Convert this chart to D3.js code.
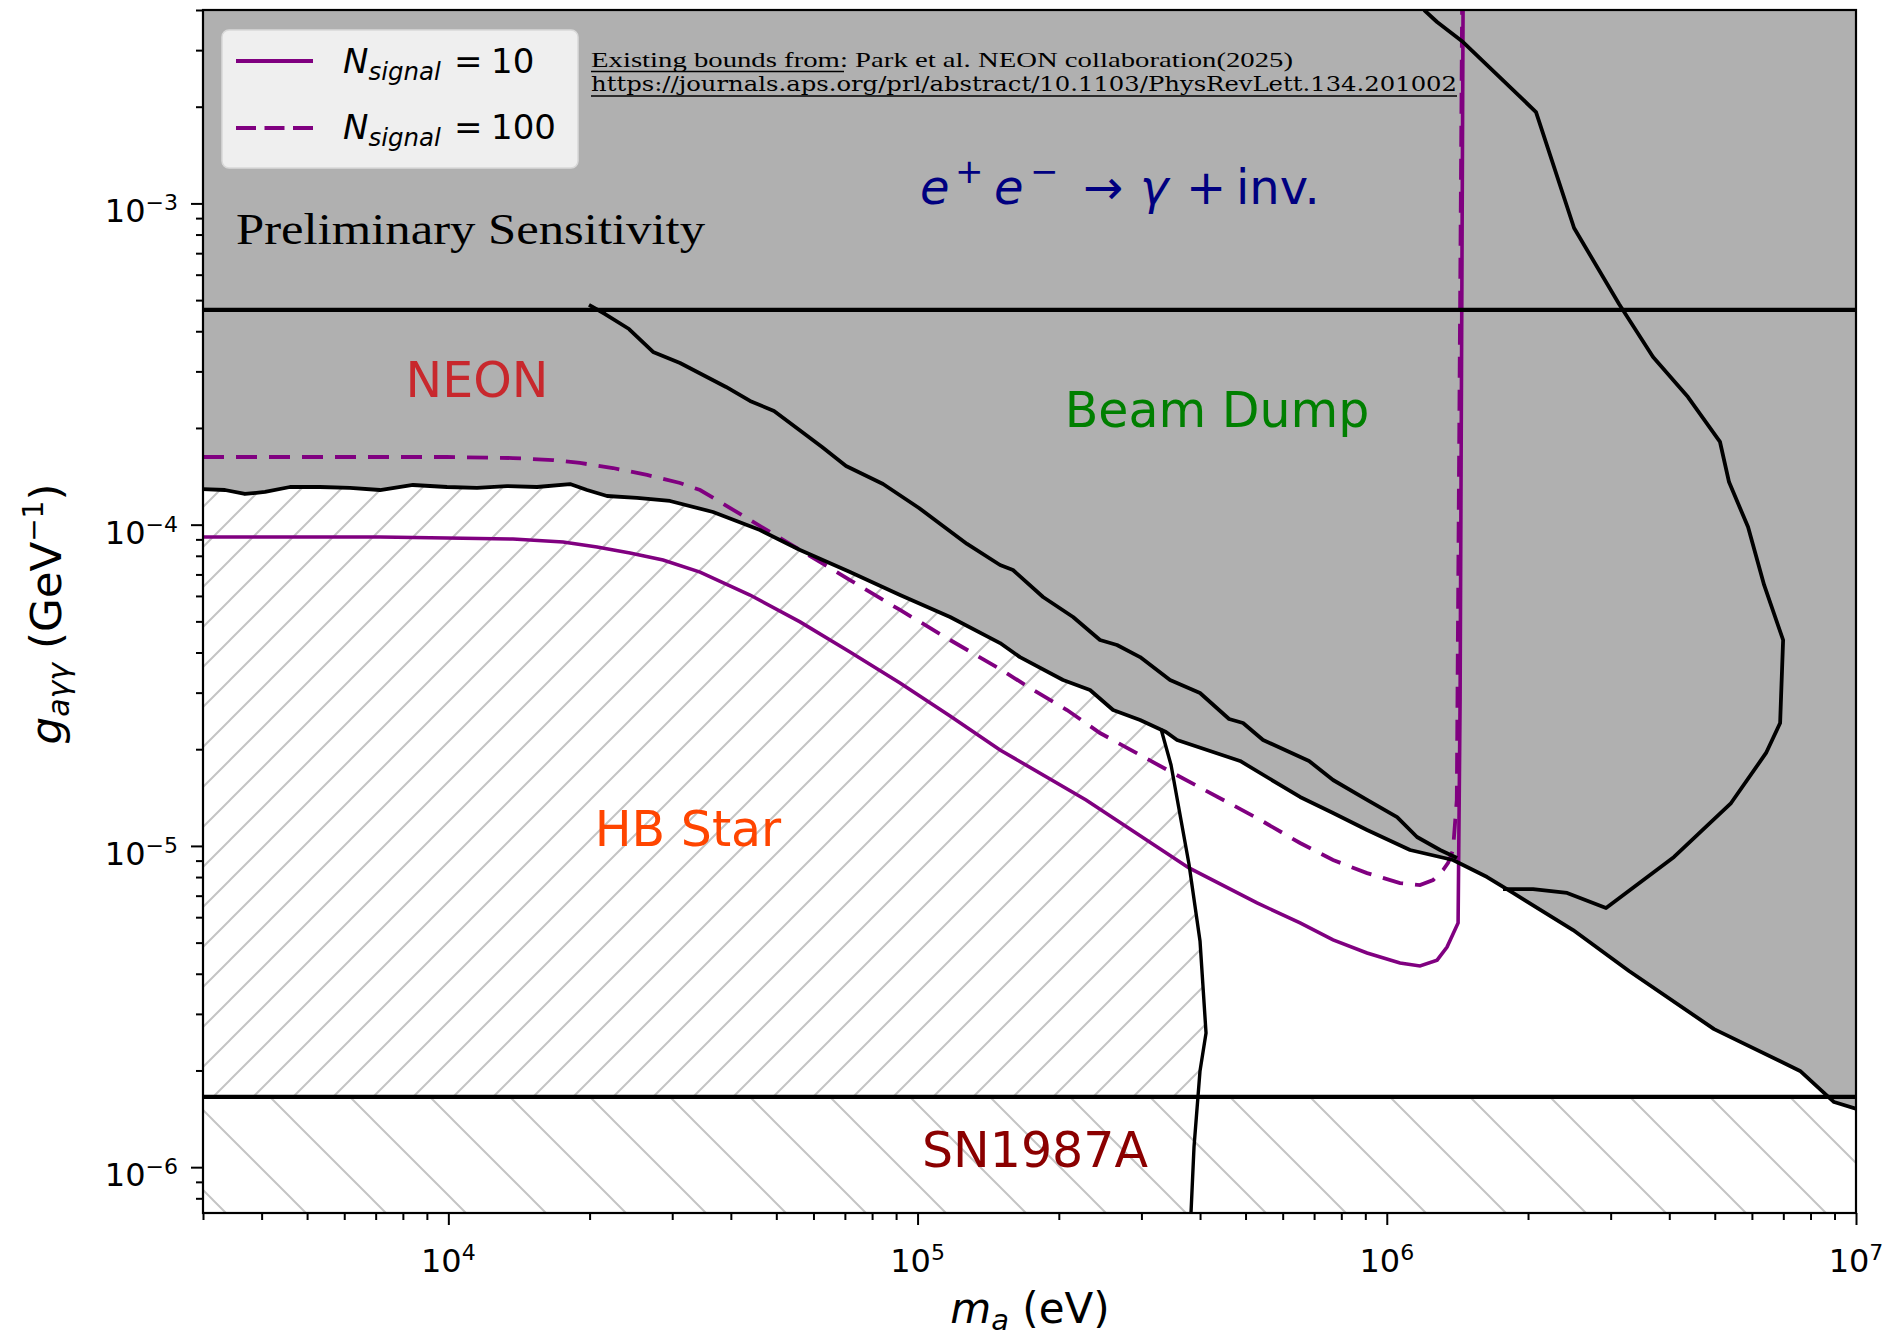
<!DOCTYPE html>
<html><head><meta charset="utf-8">
<script src="https://cdn.jsdelivr.net/npm/d3@7"></script>
<style>body{margin:0;background:#fff;} svg{display:block;}</style>
</head><body>
<svg id="chart" width="1896" height="1340"></svg>
<script>
// ---------------- DATA ----------------
const xDomain = [3e3, 1e7];
const yDomain = [7.2e-7, 4e-3];
const xTicks = [1e4, 1e5, 1e6, 1e7];
const xTickExp = ["4", "5", "6", "7"];
const yTicks = [1e-6, 1e-5, 1e-4, 1e-3];
const yTickExp = ["\u22126", "\u22125", "\u22124", "\u22123"];

const eeInvBound = 4.66e-4;     // e+e- -> gamma + inv. (horizontal)
const sn1987aBound = 1.654e-6;  // SN1987A (horizontal)

// lower envelope of the excluded (grey) region: NEON + beam dump
const lowerBound = [
  [3000,1.291e-4],[3342,1.282e-4],[3686,1.246e-4],[4067,1.264e-4],[4597,1.310e-4],
  [5326,1.310e-4],[6171,1.301e-4],[7151,1.282e-4],[8408,1.329e-4],[9934,1.310e-4],
  [11510,1.301e-4],[13340,1.319e-4],[15450,1.310e-4],[18170,1.338e-4],[19750,1.282e-4],
  [21790,1.228e-4],[25240,1.211e-4],[29680,1.185e-4],[36650,1.095e-4],[46150,9.625e-5],
  [56170,8.34e-5],[71780,7.12e-5],[91750,6.04e-5],[117300,5.16e-5],[149900,4.28e-5],
  [165300,3.87e-5],[204200,3.285e-5],[233100,3.058e-5],[261000,2.649e-5],[298000,2.466e-5],
  [338400,2.262e-5],[357300,2.137e-5],[486800,1.838e-5],[653400,1.420e-5],[768200,1.266e-5],
  [907800,1.121e-5],[1.121e6,9.71e-6],[1.384e6,9.04e-6],[1.636e6,8.00e-6],[1.858e6,7.14e-6],
  [2.495e6,5.47e-6],[3.283e6,4.08e-6],[4.984e6,2.69e-6],[7.600e6,1.993e-6],[8.979e6,1.595e-6],
  [1.005e7,1.517e-6]
];
// beam dump lower-left edge
const beamDumpEdge = [
  [19940,4.83e-4],[21580,4.526e-4],[24270,4.065e-4],[27310,3.448e-4],[31170,3.186e-4],
  [39070,2.683e-4],[43950,2.427e-4],[49440,2.259e-4],[55630,1.985e-4],[62580,1.745e-4],
  [70400,1.523e-4],[84420,1.338e-4],[100700,1.127e-4],[113300,9.91e-5],[127500,8.71e-5],
  [149900,7.49e-5],[159700,7.225e-5],[185100,5.955e-5],[214500,5.16e-5],[244800,4.375e-5],
  [266100,4.22e-5],[298000,3.87e-5],[345200,3.285e-5],[399900,2.992e-5],[461200,2.484e-5],
  [493900,2.413e-5],[544900,2.137e-5],[682900,1.838e-5],[768200,1.604e-5],[907800,1.390e-5],
  [1.052e6,1.230e-5],[1.160e6,1.066e-5],[1.299e6,9.71e-6],[1.412e6,9.17e-6]
];
// beam dump right-hand loop
const beamDumpLoop = [
  [1.769e6,7.34e-6],[2.050e6,7.34e-6],[2.423e6,7.14e-6],[2.933e6,6.41e-6],[4.094e6,9.24e-6],
  [5.417e6,1.360e-5],[6.432e6,1.947e-5],[6.891e6,2.413e-5],[6.993e6,4.375e-5],[6.370e6,6.49e-5],
  [5.888e6,9.83e-5],[5.363e6,1.357e-4],[5.131e6,1.809e-4],[4.385e6,2.496e-4],[3.694e6,3.325e-4],
  [3.126e6,4.862e-4],[2.507e6,8.385e-4],[2.080e6,1.925e-3],[1.454e6,3.18e-3],[1.280e6,3.67e-3],
  [1.201e6,4.0e-3]
];
// HB star edge
const hbStarEdge = [
  [330300,2.312e-5],[346900,1.786e-5],[378800,8.78e-6],[399900,5.06e-6],[411900,2.616e-6],
  [399900,1.993e-6],[388300,1.156e-6],[382600,7.2e-7]
];
// sensitivity curves
const nSignal10 = [
  [3000,9.15e-5],[4828,9.15e-5],[7151,9.15e-5],[9934,9.09e-5],[13730,9.02e-5],
  [17560,8.83e-5],[20740,8.52e-5],[24390,8.16e-5],[28680,7.76e-5],[34390,7.12e-5],
  [43950,6.04e-5],[56170,4.98e-5],[71780,4.015e-5],[91750,3.215e-5],[117300,2.537e-5],
  [149900,1.989e-5],[228600,1.390e-5],[378800,8.54e-6],[529000,6.645e-6],[653400,5.76e-6],
  [768200,5.10e-6],[907800,4.64e-6],[1.067e6,4.32e-6],[1.177e6,4.23e-6],[1.280e6,4.41e-6],
  [1.344e6,4.845e-6],[1.419e6,5.76e-6],[1.433e6,2.845e-5],[1.454e6,4.0e-3]
];
const nSignal100 = [
  [3000,1.624e-4],[4828,1.624e-4],[7151,1.624e-4],[9934,1.624e-4],[13730,1.612e-4],
  [16720,1.589e-4],[19080,1.556e-4],[22430,1.501e-4],[26510,1.428e-4],[31170,1.348e-4],
  [34390,1.282e-4],[43950,1.034e-4],[56170,8.34e-5],[71780,6.725e-5],[91750,5.425e-5],
  [117300,4.375e-5],[149900,3.554e-5],[176300,3.058e-5],[208200,2.649e-5],[244800,2.246e-5],
  [346900,1.699e-5],[529000,1.221e-5],[653400,1.021e-5],[768200,9.04e-6],[907800,8.23e-6],
  [1.067e6,7.66e-6],[1.177e6,7.555e-6],[1.255e6,7.83e-6],[1.318e6,8.41e-6],[1.351e6,8.85e-6],
  [1.384e6,9.71e-6],[1.410e6,1.390e-5],[1.447e6,4.0e-3]
];

// ---------------- DRAW ----------------
const M = {l:203, r:1856, t:10, b:1213};
const x = d3.scaleLog().domain(xDomain).range([M.l, M.r]);
const y = d3.scaleLog().domain(yDomain).range([M.b, M.t]);
const svg = d3.select("#chart");
const defs = svg.append("defs");
defs.append("clipPath").attr("id","plotClip").append("rect")
  .attr("x",M.l).attr("y",M.t).attr("width",M.r-M.l).attr("height",M.b-M.t);
defs.append("clipPath").attr("id","hbClip").append("rect")
  .attr("x",M.l).attr("y",M.t).attr("width",M.r-M.l).attr("height",y(sn1987aBound)-M.t);

const hatchColor = "#c4c4c4";
const pHB = defs.append("pattern").attr("id","hatchHB").attr("patternUnits","userSpaceOnUse")
  .attr("width",40).attr("height",40).attr("patternTransform","translate(30,0)");
pHB.append("path").attr("d","M-10,10L10,-10M0,40L40,0M30,50L50,30")
  .attr("stroke",hatchColor).attr("stroke-width",2);
const pSN = defs.append("pattern").attr("id","hatchSN").attr("patternUnits","userSpaceOnUse")
  .attr("width",80).attr("height",80).attr("patternTransform","translate(53,0)");
pSN.append("path").attr("d","M0,0L80,80M-20,60L20,100M60,-20L100,20")
  .attr("stroke",hatchColor).attr("stroke-width",2);

const line = d3.line().x(d=>x(d[0])).y(d=>y(d[1]));
const plot = svg.append("g").attr("clip-path","url(#plotClip)");

// SN1987A hatched band
plot.append("rect").attr("x",M.l).attr("y",y(sn1987aBound))
  .attr("width",M.r-M.l).attr("height",M.b-y(sn1987aBound)).attr("fill","url(#hatchSN)");
// HB star hatched region
const hbPoly = lowerBound.filter(d=>d[0]<hbStarEdge[0][0]).concat(hbStarEdge).concat([[xDomain[0],yDomain[0]]]);
plot.append("path").attr("clip-path","url(#hbClip)")
  .attr("d",line(hbPoly)+"Z").attr("fill","url(#hatchHB)");
// grey excluded region
const greyPoly = lowerBound.concat([[xDomain[1]*1.1,yDomain[1]*1.1],[xDomain[0]*0.9,yDomain[1]*1.1]]);
plot.append("path").attr("d",line(greyPoly)+"Z").attr("fill","#b0b0b0");

// purple sensitivity curves
plot.append("path").attr("d",line(nSignal100)).attr("fill","none")
  .attr("stroke","#800080").attr("stroke-width",3.8).attr("stroke-dasharray","21,12");
plot.append("path").attr("d",line(nSignal10)).attr("fill","none")
  .attr("stroke","#800080").attr("stroke-width",3.6);

// black boundaries
const blk = (d,w)=>plot.append("path").attr("d",d).attr("fill","none")
  .attr("stroke","#000").attr("stroke-width",w||3.8).attr("stroke-linejoin","round");
blk(line([[xDomain[0],eeInvBound],[xDomain[1],eeInvBound]]),4.2);
blk(line([[xDomain[0],sn1987aBound],[xDomain[1],sn1987aBound]]),4.2);
blk(line(lowerBound));
blk(line(beamDumpEdge));
blk(line(beamDumpLoop));
blk(line(hbStarEdge),3.4);

// region labels
const lab = (t,cx,by,col,anchor)=>svg.append("text").attr("x",cx).attr("y",by)
  .attr("text-anchor",anchor||"middle").attr("font-family","DejaVu Sans")
  .attr("font-size",49).attr("fill",col).text(t);
lab("NEON",477,397,"#c8282d");
lab("Beam Dump",1217,427,"#007f00");
lab("HB Star",688,846,"#ff4500");
lab("SN1987A",1035,1167,"#8b0000");

const ee = svg.append("text").attr("y",204).attr("font-family","DejaVu Sans")
  .attr("font-size",48).attr("fill","#000080");
ee.append("tspan").attr("x",920).attr("font-style","italic").text("e");
ee.append("tspan").attr("x",955).attr("font-size",34).attr("dy",-21).text("+");
ee.append("tspan").attr("x",994).attr("font-style","italic").attr("dy",21).text("e");
ee.append("tspan").attr("x",1030).attr("font-size",34).attr("dy",-21).text("\u2212");
ee.append("tspan").attr("x",1083).attr("dy",21).text("\u2192");
ee.append("tspan").attr("x",1140).attr("font-style","italic").text("\u03b3");
ee.append("tspan").attr("x",1186).text("+");
ee.append("tspan").attr("x",1236).text("inv.");

svg.append("text").attr("x",236).attr("y",244).attr("font-family","Liberation Serif")
  .attr("font-size",44).attr("fill","#000").attr("textLength",469).attr("lengthAdjust","spacingAndGlyphs")
  .text("Preliminary Sensitivity");

svg.append("text").attr("x",591).attr("y",67).attr("font-family","Liberation Serif")
  .attr("font-size",22).attr("fill","#000").attr("textLength",702).attr("lengthAdjust","spacingAndGlyphs")
  .text("Existing bounds from: Park et al. NEON collaboration(2025)");
svg.append("line").attr("x1",591).attr("x2",844).attr("y1",71.5).attr("y2",71.5).attr("stroke","#000").attr("stroke-width",1.3);
svg.append("text").attr("x",591).attr("y",91).attr("font-family","DejaVu Serif")
  .attr("font-size",21).attr("fill","#000").attr("textLength",866).attr("lengthAdjust","spacingAndGlyphs")
  .text("https://journals.aps.org/prl/abstract/10.1103/PhysRevLett.134.201002");
svg.append("line").attr("x1",591).attr("x2",1457).attr("y1",96).attr("y2",96).attr("stroke","#000").attr("stroke-width",1.3);

// legend
const lg = svg.append("g");
lg.append("rect").attr("x",222).attr("y",30).attr("width",356).attr("height",138).attr("rx",7)
  .attr("fill","#efefef").attr("stroke","#d9d9d9").attr("stroke-width",1.5);
lg.append("line").attr("x1",236).attr("x2",313).attr("y1",61).attr("y2",61)
  .attr("stroke","#800080").attr("stroke-width",4);
lg.append("line").attr("x1",236).attr("x2",313).attr("y1",128).attr("y2",128)
  .attr("stroke","#800080").attr("stroke-width",4).attr("stroke-dasharray","20,8.5");
const legTxt = (by,num)=>{
  const t = lg.append("text").attr("y",by).attr("font-family","DejaVu Sans")
    .attr("font-size",34).attr("fill","#000");
  t.append("tspan").attr("x",343).attr("font-style","italic").text("N");
  t.append("tspan").attr("font-style","italic").attr("font-size",24.5).attr("dy",7).text("signal");
  t.append("tspan").attr("x",454).attr("dy",-7).text("=");
  t.append("tspan").attr("x",491).text(num);
};
legTxt(73,"10");
legTxt(139,"100");

// axes
const xMinor = [], yMinor = [];
for (let e=3;e<7;e++) for (let k=2;k<10;k++){const v=k*Math.pow(10,e); if(v>=xDomain[0]&&v<=xDomain[1]) xMinor.push(v);}
for (let e=-7;e<-2;e++) for (let k=2;k<10;k++){const v=k*Math.pow(10,e); if(v>=yDomain[0]&&v<=yDomain[1]) yMinor.push(v);}

const styleAxis = g=>{g.select(".domain").remove(); g.selectAll(".tick line").attr("stroke","#000").attr("stroke-width",2);};
svg.append("g").attr("transform",`translate(0,${M.b})`)
  .call(d3.axisBottom(x).tickValues(xTicks).tickSize(12).tickSizeOuter(0).tickFormat("")).call(styleAxis);
svg.append("g").attr("transform",`translate(0,${M.b})`)
  .call(d3.axisBottom(x).tickValues(xMinor).tickSize(7).tickSizeOuter(0).tickFormat("")).call(styleAxis);
svg.append("g").attr("transform",`translate(${M.l},0)`)
  .call(d3.axisLeft(y).tickValues(yTicks).tickSize(12).tickSizeOuter(0).tickFormat("")).call(styleAxis);
svg.append("g").attr("transform",`translate(${M.l},0)`)
  .call(d3.axisLeft(y).tickValues(yMinor).tickSize(7).tickSizeOuter(0).tickFormat("")).call(styleAxis);

xTicks.forEach((v,i)=>{
  const t = svg.append("text").attr("x",x(v)).attr("y",1272).attr("text-anchor","middle")
    .attr("font-family","DejaVu Sans").attr("font-size",32).attr("fill","#000");
  t.append("tspan").text("10");
  t.append("tspan").attr("font-size",22).attr("dy",-12).text(xTickExp[i]);
});
yTicks.forEach((v,i)=>{
  const t = svg.append("text").attr("x",178).attr("y",y(v)+19).attr("text-anchor","end")
    .attr("font-family","DejaVu Sans").attr("font-size",32).attr("fill","#000");
  t.append("tspan").text("10");
  t.append("tspan").attr("font-size",22).attr("dy",-12).text(yTickExp[i]);
});

// frame
svg.append("rect").attr("x",M.l).attr("y",M.t).attr("width",M.r-M.l).attr("height",M.b-M.t)
  .attr("fill","none").attr("stroke","#000").attr("stroke-width",2.2);

// axis labels
const xl = svg.append("text").attr("x",1030).attr("y",1323).attr("text-anchor","middle")
  .attr("font-family","DejaVu Sans").attr("font-size",42).attr("fill","#000");
xl.append("tspan").attr("font-style","italic").text("m");
xl.append("tspan").attr("font-style","italic").attr("font-size",29).attr("dy",7).text("a");
xl.append("tspan").attr("dy",-7).text(" (eV)");

const yl = svg.append("text").attr("transform","translate(61,614) rotate(-90)").attr("text-anchor","middle")
  .attr("font-family","DejaVu Sans").attr("font-size",43.5).attr("fill","#000");
yl.append("tspan").attr("font-style","italic").text("g");
yl.append("tspan").attr("font-style","italic").attr("font-size",30).attr("dy",8).text("a\u03b3\u03b3");
yl.append("tspan").attr("dy",-8).text(" (GeV");
yl.append("tspan").attr("font-size",28).attr("dy",-18).text("\u22121");
yl.append("tspan").attr("dy",18).text(")");
</script>
</body></html>
